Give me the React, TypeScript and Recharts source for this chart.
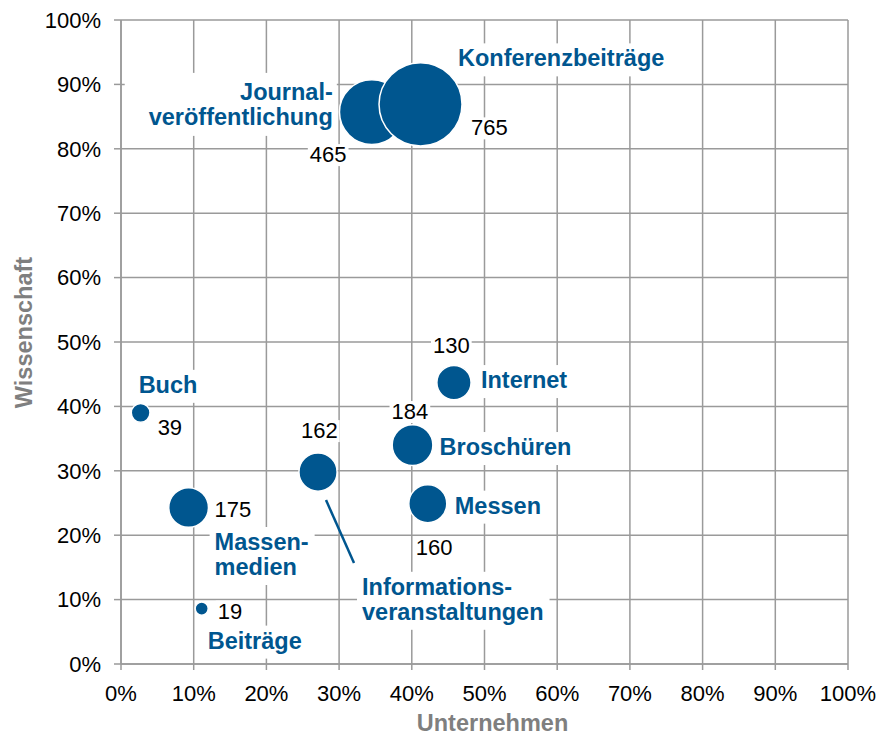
import React from 'react';
import { ScatterChart, Scatter, XAxis, YAxis, ZAxis, CartesianGrid, LabelList } from 'recharts';

// --- Daten ---
const names = [
  'Journalveröffentlichung',
  'Konferenzbeiträge',
  'Internet',
  'Buch',
  'Broschüren',
  'Informationsveranstaltungen',
  'Messen',
  'Massenmedien',
  'Beiträge',
];
const labelLines = [
  ['Journal-', 'veröffentlichung'],
  ['Konferenzbeiträge'],
  ['Internet'],
  ['Buch'],
  ['Broschüren'],
  ['Informations-', 'veranstaltungen'],
  ['Messen'],
  ['Massen-', 'medien'],
  ['Beiträge'],
];
const unternehmen = [34.5, 41.2, 45.8, 2.7, 40.1, 27.1, 42.2, 9.3, 11.1];
const wissenschaft = [85.7, 86.9, 43.7, 39.0, 34.0, 29.8, 24.9, 24.3, 8.6];
const anzahl = [465, 765, 130, 39, 184, 162, 160, 175, 19];
const percentTicks = [0, 10, 20, 30, 40, 50, 60, 70, 80, 90, 100];

const data = names.map((name, i) => ({
  name,
  x: unternehmen[i],
  y: wissenschaft[i],
  z: anzahl[i],
}));

// --- Layout der Beschriftungen (Versatz zum Blasenmittelpunkt, px) ---
type Placement = {
  nx: number;
  ny: number;
  anchor: 'start' | 'end';
  vx: number;
  vy: number;
  pad?: [number, number, number, number]; // oben, rechts, unten, links
  leader?: [number, number, number, number];
};
const placements: Placement[] = [
  { nx: -39, ny: -12.2, anchor: 'end', vx: -62, vy: 50, pad: [8, 4, 5, 24] },
  { nx: 37.5, ny: -38, anchor: 'start', vx: 50.5, vy: 31 },
  { nx: 27, ny: 5.5, anchor: 'start', vx: -21, vy: -30 },
  { nx: -2, ny: -20, anchor: 'start', vx: 17, vy: 22 },
  { nx: 27, ny: 10, anchor: 'start', vx: -21, vy: -26 },
  { nx: 44, ny: 122.7, anchor: 'start', vx: -17, vy: -34, leader: [8, 28, 36, 91] },
  { nx: 27, ny: 10, anchor: 'start', vx: -12, vy: 51 },
  { nx: 26, ny: 42.5, anchor: 'start', vx: 26, vy: 9 },
  { nx: 6, ny: 40, anchor: 'start', vx: 16, vy: 10 },
];

const BLUE = '#00568F';
const GRID = '#9a9a9a';
const FONT = "'Liberation Sans', Arial, sans-serif";
const NAME_SIZE = 23.5;
const VALUE_SIZE = 22;
const LINE_H = 25;
const MAX_R = 41.5;

let measureCtx: CanvasRenderingContext2D | null = null;
const textWidth = (text: string, font: string) => {
  if (!measureCtx) measureCtx = document.createElement('canvas').getContext('2d');
  if (!measureCtx) return text.length * 12;
  measureCtx.font = font;
  return measureCtx.measureText(text).width;
};

const BubbleLabel = (props: any) => {
  const vb = props.viewBox ?? props;
  const i = names.indexOf(props.value);
  if (i < 0 || vb == null) return null;
  const cx = vb.x + vb.width / 2;
  const cy = vb.y + vb.height / 2;
  const p = placements[i];
  const lines = labelLines[i];

  const nameFont = `bold ${NAME_SIZE}px ${FONT}`;
  const maxW = Math.max(...lines.map((l) => textWidth(l, nameFont)));
  const tx = cx + p.nx;
  const ty = cy + p.ny;
  const [pt, pr, pb, pl] = p.pad ?? [4, 6, 4, 5];
  const left = p.anchor === 'start' ? tx : tx - maxW;
  const top = ty - 19;
  const bottom = ty + (lines.length - 1) * LINE_H + 6;

  const valText = String(anzahl[i]);
  const vw = textWidth(valText, `${VALUE_SIZE}px ${FONT}`);
  const vx = cx + p.vx;
  const vy = cy + p.vy;

  return (
    <g>
      {p.leader && (
        <line
          x1={cx + p.leader[0]}
          y1={cy + p.leader[1]}
          x2={cx + p.leader[2]}
          y2={cy + p.leader[3]}
          stroke={BLUE}
          strokeWidth={2.5}
        />
      )}
      <rect x={left - pl} y={top - pt} width={maxW + pl + pr} height={bottom - top + pt + pb} fill="#fff" />
      <text
        x={tx}
        y={ty}
        textAnchor={p.anchor}
        fill={BLUE}
        fontFamily={FONT}
        fontWeight="bold"
        fontSize={NAME_SIZE}
      >
        {lines.map((l, k) => (
          <tspan key={k} x={tx} y={ty + k * LINE_H}>
            {l}
          </tspan>
        ))}
      </text>
      <rect x={vx - 2} y={vy - 18} width={vw + 4} height={22} fill="#fff" />
      <text x={vx} y={vy} fill="#000" fontFamily={FONT} fontSize={VALUE_SIZE}>
        {valText}
      </text>
    </g>
  );
};

const tickStyle = { fill: '#000', fontSize: 22, fontFamily: FONT };

export default function App() {
  return (
    <div style={{ position: 'absolute', left: 0, top: 0, width: 883, height: 738, background: '#fff' }}>
      <ScatterChart width={883} height={738} margin={{ top: 20, right: 35, left: 21, bottom: 24 }}>
        <CartesianGrid stroke={GRID} strokeWidth={1.5} />
        <XAxis
          type="number"
          dataKey="x"
          domain={[0, 100]}
          ticks={percentTicks}
          tickFormatter={(v: number) => `${v}%`}
          interval={0}
          height={50}
          tickSize={6}
          tickMargin={15}
          tick={tickStyle}
          axisLine={{ stroke: GRID, strokeWidth: 1.5 }}
          tickLine={{ stroke: GRID, strokeWidth: 1.5 }}
          label={(lp: any) => {
            const vb = lp.viewBox;
            return (
              <text
                x={vb.x + vb.width / 2 + 8}
                y={vb.y + vb.height + 17}
                textAnchor="middle"
                fill="#7f7f7f"
                fontFamily={FONT}
                fontWeight="bold"
                fontSize={23.5}
              >
                Unternehmen
              </text>
            );
          }}
        />
        <YAxis
          type="number"
          dataKey="y"
          domain={[0, 100]}
          ticks={percentTicks}
          tickFormatter={(v: number) => `${v}%`}
          interval={0}
          width={100}
          tickSize={7}
          tickMargin={13}
          tick={tickStyle}
          axisLine={{ stroke: GRID, strokeWidth: 1.5 }}
          tickLine={{ stroke: GRID, strokeWidth: 1.5 }}
          label={(lp: any) => {
            const vb = lp.viewBox;
            const x = vb.x + 10.5;
            const y = vb.y + vb.height / 2 - 9.5;
            return (
              <text
                x={x}
                y={y}
                transform={`rotate(-90, ${x}, ${y})`}
                textAnchor="middle"
                fill="#7f7f7f"
                fontFamily={FONT}
                fontWeight="bold"
                fontSize={23.5}
              >
                Wissenschaft
              </text>
            );
          }}
        />
        <ZAxis type="number" dataKey="z" domain={[0, 'dataMax']} range={[0, Math.PI * MAX_R * MAX_R]} />
        <Scatter data={data} fill={BLUE} stroke="#fff" strokeWidth={1.5} isAnimationActive={false}>
          <LabelList dataKey="name" content={BubbleLabel} />
        </Scatter>
      </ScatterChart>
    </div>
  );
}
